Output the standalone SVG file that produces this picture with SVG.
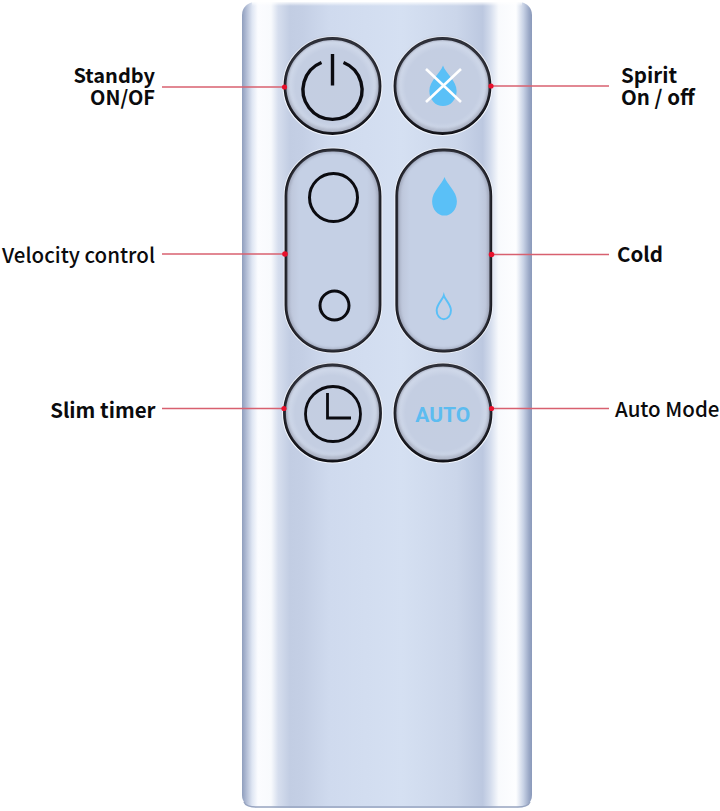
<svg xmlns="http://www.w3.org/2000/svg" width="720" height="811" viewBox="0 0 720 811">
<style>
.lbl{font-family:"Noto Sans CJK KR","Noto Sans",sans-serif;font-weight:700;font-size:20px;fill:#0b0b0d}
.med{font-weight:500;font-size:20.500px}
.big{font-size:20.500px}
.rim{fill:url(#btn);stroke:#0d0d12;stroke-width:2.800}
.halo{fill:none;stroke:#f2f6fd;stroke-width:1.4}
.soft{fill:none;stroke:#7a7f92;stroke-width:2.400;filter:url(#b2);opacity:.55}
.ink{fill:none;stroke:#0b0b10;stroke-linecap:butt}
.lead{stroke:#d8606f;stroke-width:1.3;fill:none}
.dot{fill:#e8102c}
.drop{fill:#5ac0f7}
</style>
<defs>
<linearGradient id="body" x1="0" x2="1" y1="0" y2="0">
<stop offset="0" stop-color="#8f9ebd"/>
<stop offset=".012" stop-color="#aab6d0"/>
<stop offset=".035" stop-color="#dfe6f3"/>
<stop offset=".055" stop-color="#fbfcff"/>
<stop offset=".1" stop-color="#f8fafd"/>
<stop offset=".125" stop-color="#d6deee"/>
<stop offset=".165" stop-color="#c2cde3"/>
<stop offset=".21" stop-color="#c4cfe5"/>
<stop offset=".3" stop-color="#cfdaee"/>
<stop offset=".55" stop-color="#d5e0f2"/>
<stop offset=".74" stop-color="#cbd6ea"/>
<stop offset=".83" stop-color="#bcc8e0"/>
<stop offset=".855" stop-color="#d2dbec"/>
<stop offset=".885" stop-color="#f8fafd"/>
<stop offset=".945" stop-color="#fdfeff"/>
<stop offset=".97" stop-color="#c9d3e6"/>
<stop offset=".99" stop-color="#9aa8c6"/>
<stop offset="1" stop-color="#8a99ba"/>
</linearGradient>
<linearGradient id="capT" x1="0" x2="0" y1="0" y2="1">
<stop offset="0" stop-color="#ffffff" stop-opacity=".85"/>
<stop offset="1" stop-color="#ffffff" stop-opacity="0"/>
</linearGradient>
<radialGradient id="btn" cx=".5" cy=".5" r=".5">
<stop offset="0" stop-color="#c4cee1"/>
<stop offset=".78" stop-color="#c4cee2"/>
<stop offset=".93" stop-color="#d0d9ea"/>
<stop offset="1" stop-color="#b4bbcd"/>
</radialGradient>
<linearGradient id="pill" x1="0" x2="1" y1="0" y2="0">
<stop offset="0" stop-color="#bac2d6"/>
<stop offset=".14" stop-color="#c5d0e5"/>
<stop offset=".86" stop-color="#c5d0e5"/>
<stop offset="1" stop-color="#bac2d6"/>
</linearGradient>
<filter id="b2" x="-20%" y="-20%" width="140%" height="140%"><feGaussianBlur stdDeviation="1.500"/></filter>
<path id="dropShape" d="M0 -1 C.12 -.62 .62 -.26 .62 .24 C.62 .66 .34 .98 0 .98 C-.34 .98 -.62 .66 -.62 .24 C-.62 -.26 -.12 -.62 0 -1Z"/>
</defs>

<g id="remote-body">
<rect x="242" y="2" width="290" height="806" rx="13" fill="url(#body)"/>
<rect x="252" y="2" width="270" height="4" fill="url(#capT)"/>
<path d="M244 802 Q246 807 256 807 H518 Q528 807 530 802" fill="none" stroke="#97a4c0" stroke-width="1.400"/>
</g>

<g id="connectors">
<path class="lead" d="M162 87H284"/>
<path class="lead" d="M162 254H286"/>
<path class="lead" d="M162 408.500H284"/>
<path class="lead" d="M490 86H609"/>
<path class="lead" d="M490 254.500H609"/>
<path class="lead" d="M490 408.500H609"/>
</g>

<g id="btn-standby">
<circle class="halo" cx="332.500" cy="86" r="49.300"/>
<circle class="rim" cx="332.500" cy="86" r="47.500"/>
<circle class="soft" cx="332.500" cy="84.500" r="46"/>
<path class="ink" stroke-width="3.400" d="M321.500 62.500A29.500 29.500 0 1 0 343.500 62.500"/>
<path class="ink" stroke-width="3.400" d="M332.500 54V85.500"/>
<circle class="dot" cx="284.500" cy="87" r="2.600"/>
</g>

<g id="btn-spirit">
<circle class="halo" cx="442.500" cy="86" r="49.300"/>
<circle class="rim" cx="442.500" cy="86" r="47.500"/>
<circle class="soft" cx="442.500" cy="84.500" r="46"/>
<use href="#dropShape" class="drop" transform="translate(443 86) scale(22 20.500)"/>
<path d="M426 69L461 102M461 69L426 102" stroke="#ffffff" stroke-width="2.600" fill="none"/>
<circle class="dot" cx="491" cy="86" r="2.600"/>
</g>

<g id="btn-velocity">
<rect class="halo" x="284.300" y="148.300" width="97.400" height="204.400" rx="48"/>
<rect x="286" y="150" width="94" height="201" rx="46" fill="url(#pill)" stroke="#0d0d12" stroke-width="2.800"/>
<rect class="soft" x="287.500" y="151" width="91" height="199" rx="45"/>
<circle class="ink" stroke-width="3" cx="333.500" cy="197.500" r="24"/>
<circle class="ink" stroke-width="3" cx="334.500" cy="305.500" r="14.500"/>
<circle class="dot" cx="285" cy="254" r="2.800"/>
</g>

<g id="btn-cold">
<rect class="halo" x="395.100" y="148.300" width="97.400" height="204.400" rx="48"/>
<rect x="396.800" y="150" width="94" height="201" rx="46" fill="url(#pill)" stroke="#0d0d12" stroke-width="2.800"/>
<rect class="soft" x="398.300" y="151" width="91" height="199" rx="45"/>
<use href="#dropShape" class="drop" transform="translate(444.500 196.500) scale(20 19.500)"/>
<use href="#dropShape" fill="none" stroke="#5ac0f7" stroke-width=".17" transform="translate(443.800 307.500) scale(11.500 12)"/>
<circle class="dot" cx="491.500" cy="254.500" r="2.800"/>
</g>

<g id="btn-timer">
<circle class="halo" cx="332.500" cy="413" r="49.800"/>
<circle class="rim" cx="332.500" cy="413" r="48"/>
<circle class="soft" cx="332.500" cy="411.500" r="46.500"/>
<circle class="ink" stroke-width="2.800" cx="333" cy="414" r="27.500"/>
<path class="ink" stroke-width="2.800" d="M327.500 393V418H351"/>
<circle class="dot" cx="284" cy="408.500" r="2.600"/>
</g>

<g id="btn-auto">
<circle class="halo" cx="443" cy="413" r="49.800"/>
<circle class="rim" cx="443" cy="413" r="48"/>
<circle class="soft" cx="443" cy="411.500" r="46.500"/>
<text x="442.800" y="422" text-anchor="middle" font-family="Roboto,'Liberation Sans',sans-serif" font-weight="700" font-size="21" fill="#5cbcf0">AUTO</text>
<circle class="dot" cx="491.500" cy="408.500" r="2.600"/>
</g>

<g id="labels">
<text class="lbl" text-anchor="end"><tspan x="155" y="83">Standby</tspan><tspan x="155" y="105">ON/OF</tspan></text>
<text class="lbl med" x="155" y="263" text-anchor="end">Velocity control</text>
<text class="lbl big" x="155.500" y="418" text-anchor="end">Slim timer</text>
<text class="lbl big"><tspan x="621" y="83">Spirit</tspan><tspan x="621" y="105">On / off</tspan></text>
<text class="lbl big" x="617" y="262">Cold</text>
<text class="lbl med" x="615" y="417">Auto Mode</text>
</g>
</svg>
